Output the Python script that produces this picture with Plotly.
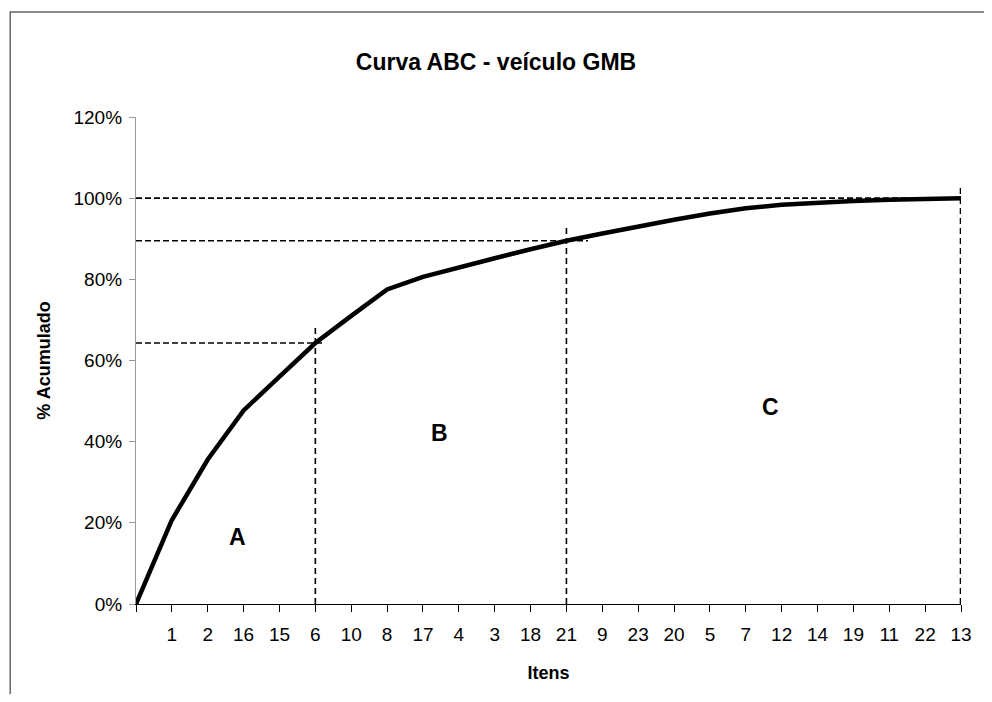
import plotly.graph_objects as go

# Data
items = ["", "1", "2", "16", "15", "6", "10", "8", "17", "4", "3", "18", "21",
         "9", "23", "20", "5", "7", "12", "14", "19", "11", "22", "13"]
cum_pct = [0, 20.7, 35.6, 47.7, 56.0, 64.3, 71.0, 77.5, 80.6, 83.0, 85.2, 87.4, 89.5,
           91.3, 93.1, 94.7, 96.2, 97.5, 98.4, 98.9, 99.3, 99.6, 99.8, 100.0]

# Class cut-offs (index on x, cumulative % on y)
cut_idx = [5, 12, 23]
cut_pct = [64.3, 89.5, 100.0]
vline_top = [68, 93, 103.5]
hline_end = [5.25, 12.6, 23.2]

class_labels = ["A", "B", "C"]
class_x = [2.83, 8.45, 17.68]
class_y = [16.5, 42.1, 48.5]

title = "Curva ABC - veículo GMB"
x_title = "Itens"
y_title = "% Acumulado"
y_ticks = [0, 20, 40, 60, 80, 100, 120]

FONT = "Liberation Sans, Arial, sans-serif"
xs = list(range(len(items)))

fig = go.Figure()

# dashed reference lines
for i in range(len(cut_idx)):
    w = 2.6 if i == 2 else 1.6
    fig.add_trace(go.Scatter(x=[0, hline_end[i]], y=[cut_pct[i], cut_pct[i]], mode="lines",
                             line=dict(color="black", width=1.6, dash="6px,3px"),
                             hoverinfo="skip", showlegend=False))
    fig.add_trace(go.Scatter(x=[cut_idx[i], cut_idx[i]], y=[0, vline_top[i]], mode="lines",
                             line=dict(color="black", width=w, dash="6px,4px"),
                             hoverinfo="skip", showlegend=False))

# main curve
fig.add_trace(go.Scatter(x=xs, y=cum_pct, mode="lines",
                         line=dict(color="black", width=4.5),
                         showlegend=False, cliponaxis=False))

for lab, x, y in zip(class_labels, class_x, class_y):
    fig.add_annotation(x=x, y=y, text=f"<b>{lab}</b>", showarrow=False,
                       font=dict(size=23, color="black", family=FONT))

# page has an 8px body margin; figure sized so the whole page is 992x702
W, H = 976, 686
L, R, T, B = 128, 15, 109, 90
pw, ph = W - L - R, H - T - B
def px2paper_x(px):
    return (px - L) / pw
def px2paper_y(py):
    return (H - B - py) / ph
# outer chart frame
fig.add_shape(type="rect", xref="paper", yref="paper",
              x0=px2paper_x(1), x1=px2paper_x(1010),
              y0=px2paper_y(720), y1=px2paper_y(4),
              line=dict(color="#666666", width=1.5), layer="below")

fig.update_layout(
    width=W, height=H,
    margin=dict(l=L, r=R, t=T, b=B),
    paper_bgcolor="white", plot_bgcolor="white",
    font=dict(family=FONT, color="black", size=19),
    title=dict(text=f"<b>{title}</b>", x=0.5, xref="container", xanchor="center",
               y=1 - 54 / H, yanchor="middle", font=dict(size=23)),
    xaxis=dict(range=[0, 23], tickmode="array", tickvals=xs, ticktext=items,
               showgrid=False, zeroline=False, showline=True, linecolor="black",
               linewidth=1.2, ticks="outside", ticklen=7, tickcolor="black",
               tickwidth=1.2, tickfont=dict(size=19), ticklabelstandoff=6,
               title=dict(text=f"<b>{x_title}</b>", font=dict(size=18), standoff=22)),
    yaxis=dict(range=[0, 120], tickmode="array", tickvals=y_ticks,
               ticktext=[f"{v}%" for v in y_ticks],
               showgrid=False, zeroline=False, showline=True, linecolor="#999999",
               linewidth=1.2, ticks="outside", ticklen=6, tickcolor="#999999",
               tickfont=dict(size=19), ticklabelstandoff=3,
               title=dict(text=f"<b>{y_title}</b>", font=dict(size=18), standoff=18)),
)

fig.write_html("out.html", config={"displayModeBar": False})
